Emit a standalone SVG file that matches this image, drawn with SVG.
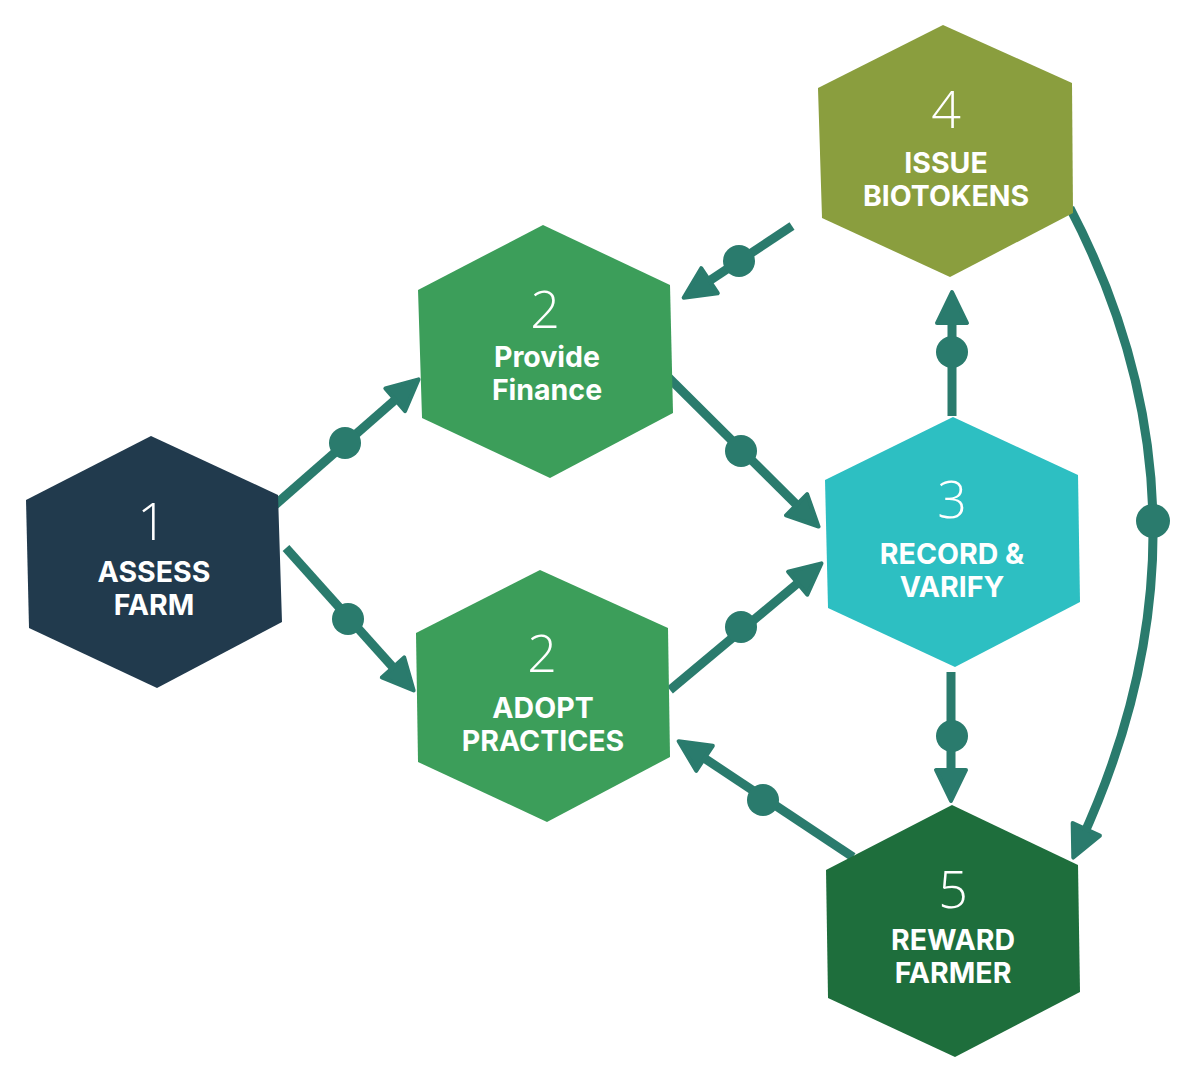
<svg xmlns="http://www.w3.org/2000/svg" width="1189" height="1080" viewBox="0 0 1189 1080">
<style>
.num{font-family:"Open Sans","Liberation Sans",sans-serif;font-weight:300;font-size:52px;fill:#ffffff;text-anchor:middle}
.lbl{font-family:Inter,"Liberation Sans",sans-serif;font-weight:700;font-size:28.5px;fill:#ffffff;text-anchor:middle}
.con{fill:none;stroke:#2a7b6d;stroke-width:9;marker-end:url(#arr)}
.dot{fill:#2a7b6d}
</style>
<defs>
<marker id="arr" markerUnits="userSpaceOnUse" markerWidth="42" markerHeight="42" refX="18" refY="18" orient="auto">
<path d="M3,3 L34,18 L3,33 Z" fill="#2a7b6d" stroke="#2a7b6d" stroke-width="4" stroke-linejoin="round"/>
</marker>
</defs>
<rect width="1189" height="1080" fill="#ffffff"/>
<g id="connectors">
<line class="con" x1="275" y1="505" x2="406.5" y2="389.9"/>
<circle class="dot" cx="345" cy="443" r="16"/>
<line class="con" x1="286" y1="548" x2="403" y2="678.6"/>
<circle class="dot" cx="348" cy="619" r="16"/>
<line class="con" x1="667" y1="376" x2="807.2" y2="515.3"/>
<circle class="dot" cx="741" cy="451" r="16"/>
<line class="con" x1="670" y1="690" x2="809.2" y2="573.6"/>
<circle class="dot" cx="741" cy="627" r="16"/>
<line class="con" x1="792" y1="226" x2="697" y2="289"/>
<circle class="dot" cx="739" cy="261" r="16"/>
<line class="con" x1="952" y1="416" x2="952" y2="308"/>
<circle class="dot" cx="952" cy="352" r="16"/>
<line class="con" x1="951" y1="672" x2="951" y2="785"/>
<circle class="dot" cx="952" cy="736" r="16"/>
<line class="con" x1="853" y1="857" x2="692" y2="750"/>
<circle class="dot" cx="763" cy="800" r="16"/>
<path class="con" d="M1070,208 Q1231,516.5 1080,843"/>
<circle class="dot" cx="1153" cy="521" r="17"/>
</g>
<g id="node1">
<polygon points="151,436 278,495 282,622 157,688 29,628 26,500" fill="#213a4d"/>
<text class="num" x="152" y="540">1</text>
<text class="lbl" x="154" y="582">ASSESS</text>
<text class="lbl" x="154" y="615">FARM</text>
</g>
<g id="node2a">
<polygon points="543,225 670,285 673,413 550,478 422,418 418,290" fill="#3c9e5a"/>
<text class="num" x="545" y="328">2</text>
<text class="lbl" x="547" y="367">Provide</text>
<text class="lbl" x="547" y="400">Finance</text>
</g>
<g id="node2b">
<polygon points="540,570 668,628 670,757 547,822 418,762 416,633" fill="#3c9e5a"/>
<text class="num" x="542" y="672">2</text>
<text class="lbl" x="543" y="718">ADOPT</text>
<text class="lbl" x="543" y="751">PRACTICES</text>
</g>
<g id="node3">
<polygon points="953,417 1078,475 1080,602 955,667 828,608 825,480" fill="#2dbfc2"/>
<text class="num" x="952" y="518">3</text>
<text class="lbl" x="952" y="564">RECORD &amp;</text>
<text class="lbl" x="952" y="597">VARIFY</text>
</g>
<g id="node4">
<polygon points="943,25 1072,83 1073,213 950,277 822,218 818,88" fill="#8a9e3e"/>
<text class="num" x="946" y="128">4</text>
<text class="lbl" x="946" y="173">ISSUE</text>
<text class="lbl" x="946" y="206">BIOTOKENS</text>
</g>
<g id="node5">
<polygon points="952,805 1078,865 1080,992 955,1057 828,998 826,870" fill="#1e6e3c"/>
<text class="num" x="953" y="908">5</text>
<text class="lbl" x="953" y="950">REWARD</text>
<text class="lbl" x="953" y="983">FARMER</text>
</g>
</svg>
